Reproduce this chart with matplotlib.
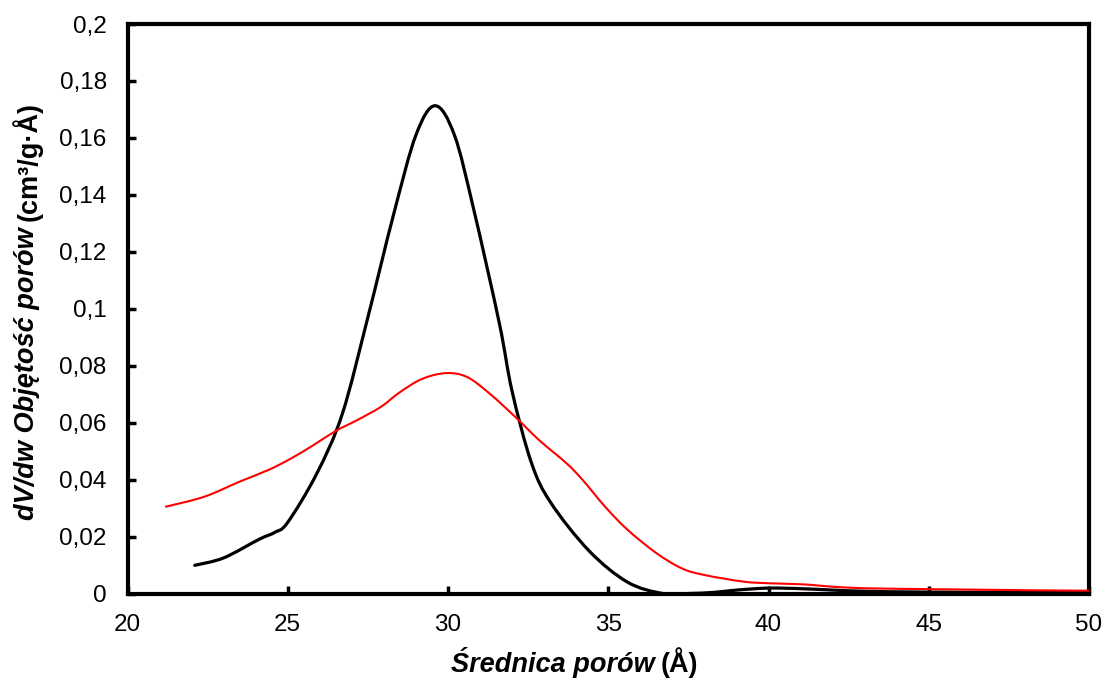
import numpy as np
import matplotlib
matplotlib.use("Agg")
import matplotlib.pyplot as plt
from matplotlib.path import Path
from matplotlib.patches import PathPatch
from matplotlib.ticker import FuncFormatter, MultipleLocator

plt.rcParams['font.family'] = ['Liberation Sans', 'DejaVu Sans']

# Pore size distribution (BJH), dV/dw vs pore diameter
diam_black = [22.1, 23.0, 24.1, 24.6, 25.0, 25.9, 26.7, 27.5, 28.3, 29.0,
              29.6, 30.2, 30.8, 31.6, 32.0, 32.6, 33.2, 34.4, 35.6, 36.7,
              37.5, 38.3, 39.0, 40.0, 41.0, 42.0, 43.0, 45.0, 50.0]
dvdw_black = [0.0099, 0.0125, 0.0190, 0.0215, 0.0250, 0.0420, 0.0630, 0.0970,
              0.1330, 0.1610, 0.1713, 0.1610, 0.1350, 0.0950, 0.0710, 0.0460,
              0.0320, 0.0150, 0.0040, 0.0000, 0.0000, 0.0004, 0.0012, 0.0019,
              0.0017, 0.0012, 0.0008, 0.0005, 0.0003]

diam_red = [21.2, 22.4, 23.5, 24.4, 25.1, 25.8, 26.5, 27.15, 27.9, 28.5, 29.2,
            29.95, 30.6, 31.3, 32.1, 32.85, 33.7, 34.2, 34.9, 35.6, 36.5, 37.3,
            38.0, 39.2, 40.0, 41.1, 42.1, 43.2, 45.3, 48.5, 50.0]
dvdw_red = [0.0305, 0.0340, 0.0393, 0.0434, 0.0474, 0.0521, 0.0571, 0.0608,
            0.0655, 0.0707, 0.0754, 0.0774, 0.0760, 0.0702, 0.0620, 0.0538,
            0.0457, 0.0399, 0.0305, 0.0224, 0.0142, 0.0088, 0.0065, 0.0042,
            0.0036, 0.0032, 0.0023, 0.0018, 0.0015, 0.0011, 0.0010]

x_ticks = [20, 25, 30, 35, 40, 45, 50]

W, H = 1109, 686


def smooth_path(xs, ys):
    """Catmull-Rom style cubic Bezier path through the points (smoothed line)."""
    p = np.column_stack([xs, ys]).astype(float)
    n = len(p)
    verts = [p[0]]
    codes = [Path.MOVETO]
    for i in range(n - 1):
        p0 = p[i - 1] if i > 0 else p[i]
        p1 = p[i]
        p2 = p[i + 1]
        p3 = p[i + 2] if i + 2 < n else p[i + 1]
        c1 = p1 + (p2 - p0) / 6.0
        c2 = p2 - (p3 - p1) / 6.0
        verts += [c1, c2, p2]
        codes += [Path.CURVE4] * 3
    return Path(verts, codes)


fig = plt.figure(figsize=(W / 100, H / 100), dpi=100)
ax = fig.add_axes([127.5 / W, 1 - 593.5 / H, (1089 - 127.5) / W, (593.5 - 24) / H])

ax.add_patch(PathPatch(smooth_path(diam_black, dvdw_black), fill=False,
                       edgecolor='black', lw=2.3, zorder=3,
                       capstyle='round', joinstyle='round'))
ax.add_patch(PathPatch(smooth_path(diam_red, dvdw_red), fill=False,
                       edgecolor='#ff0000', lw=1.5, zorder=4,
                       capstyle='round', joinstyle='round'))

ax.set_xlim(20, 50)
ax.set_ylim(0, 0.2)
ax.set_xticks(x_ticks)
ax.yaxis.set_major_locator(MultipleLocator(0.02))


def comma_fmt(v, pos):
    s = f"{v:.2f}".rstrip('0').rstrip('.')
    return s.replace('.', ',')


ax.yaxis.set_major_formatter(FuncFormatter(comma_fmt))
ax.xaxis.set_major_formatter(FuncFormatter(lambda v, p: f"{v:g}"))

for s in ax.spines.values():
    s.set_linewidth(3)
    s.set_color('black')
    s.set_zorder(2)

ax.tick_params(axis='both', direction='in', length=6, width=2.5,
               labelsize=17.5, pad=15, top=False, right=False)

# Axis titles: italic part followed by an upright unit part, both bold
title_size = 19.5
xa = fig.text(0, 0, "Średnica porów", fontsize=title_size, fontweight='bold',
              fontstyle='italic', ha='left', va='baseline')
xb = fig.text(0, 0, "(Å)", fontsize=title_size, fontweight='bold',
              ha='left', va='baseline')
ya = fig.text(0, 0, "dV/dw Objętość porów", fontsize=title_size,
              fontweight='bold', fontstyle='italic', rotation=90,
              ha='center', va='bottom')
yb = fig.text(0, 0, "(cm³/g·Å)", fontsize=title_size, fontweight='bold',
              rotation=90, ha='center', va='bottom')

fig.canvas.draw()
r = fig.canvas.get_renderer()
gap = 6  # px between the two parts

# x title: centred at x = 575 px, baseline at 672 px from top
wa = xa.get_window_extent(r).width
wb = xb.get_window_extent(r).width
x0 = 575 - (wa + gap + wb) / 2
xa.set_position((x0 / W, 14 / H))
xb.set_position(((x0 + wa + gap) / W, 14 / H))

# y title: centred at y = 311 px from top, x centre at 27 px
ha_ = ya.get_window_extent(r).height
hb_ = yb.get_window_extent(r).height
y0 = (H - 311) - (ha_ + gap + hb_) / 2
ya.set_position((27 / W, y0 / H))
yb.set_position((27 / W, (y0 + ha_ + gap) / H))

fig.savefig("out.png", dpi=100)
